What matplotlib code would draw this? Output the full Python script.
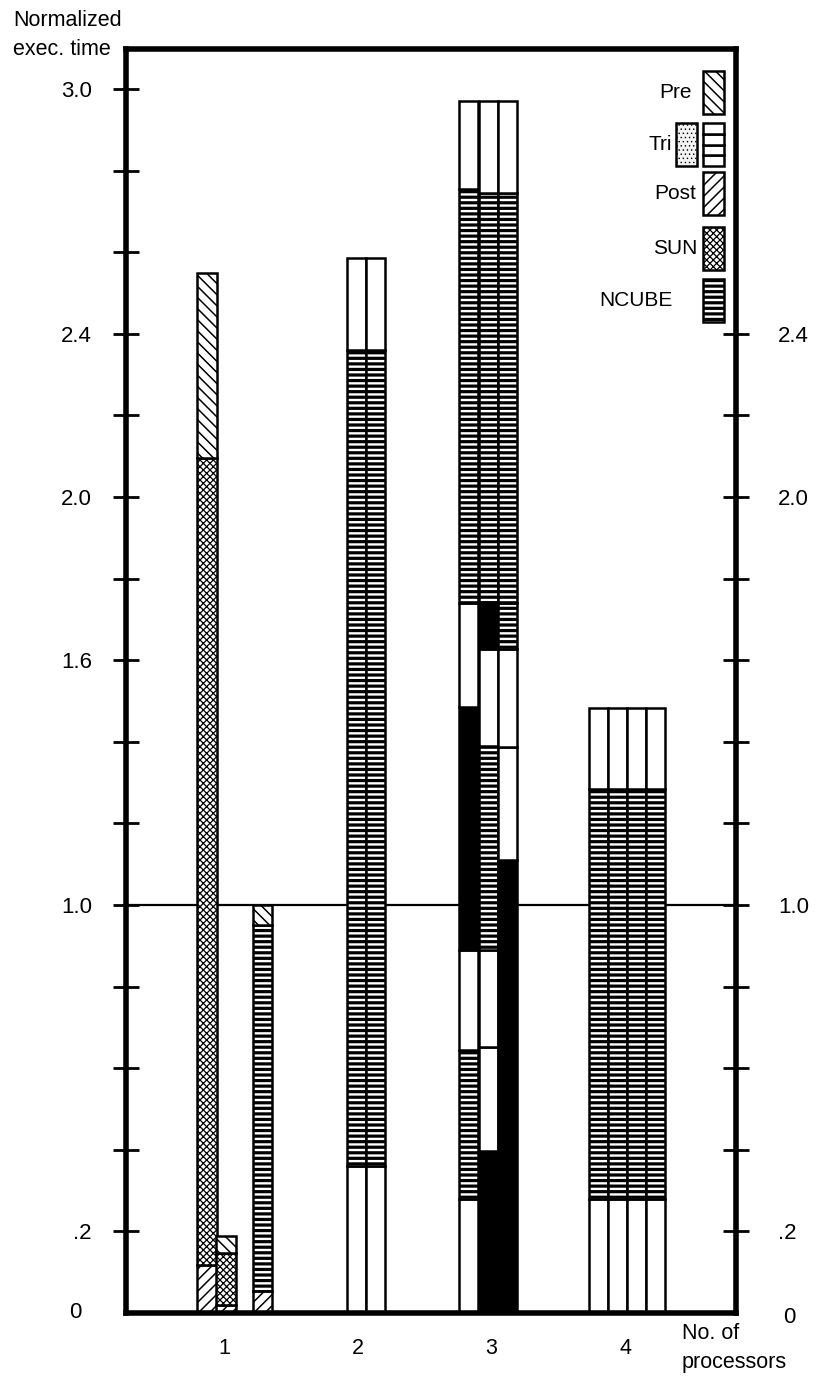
import matplotlib
matplotlib.use('Agg')
import matplotlib.pyplot as plt
from matplotlib.patches import Rectangle

plt.rcParams['font.family'] = ['Liberation Sans', 'DejaVu Sans']

# chart data
group_labels = ['1', '2', '3', '4']
bar_group = [1, 1, 1, 2, 2, 3, 3, 3, 4, 4, 4, 4]
bar_kinds = [
    ['post', 'sun', 'pre'],
    ['post', 'sun', 'pre'],
    ['post', 'ncube', 'pre'],
    ['tri', 'ncube', 'tri'],
    ['tri', 'ncube', 'tri'],
    ['tri', 'ncube', 'tri', 'black', 'tri', 'ncube', 'tri'],
    ['black', 'tri', 'tri', 'ncube', 'tri', 'black', 'ncube', 'tri'],
    ['black', 'tri', 'tri', 'ncube', 'ncube', 'tri'],
    ['tri', 'ncube', 'tri'],
    ['tri', 'ncube', 'tri'],
    ['tri', 'ncube', 'tri'],
    ['tri', 'ncube', 'tri'],
]
# cumulative segment tops (normalized exec. time)
bar_tops = [
    [0.118, 2.096, 2.55],
    [0.02, 0.147, 0.189],
    [0.054, 0.95, 1.0],
    [0.36, 2.36, 2.585],
    [0.36, 2.36, 2.585],
    [0.28, 0.645, 0.89, 1.485, 1.74, 2.755, 2.97],
    [0.397, 0.652, 0.89, 1.39, 1.627, 1.743, 2.745, 2.97],
    [1.11, 1.387, 1.627, 1.74, 2.745, 2.97],
    [0.28, 1.284, 1.484],
    [0.28, 1.284, 1.484],
    [0.28, 1.284, 1.484],
    [0.28, 1.284, 1.484],
]
legend_names = ['Pre', 'Tri', 'Post', 'SUN', 'NCUBE']
left_labels = {0.2: '.2', 1.0: '1.0', 1.6: '1.6', 2.0: '2.0', 2.4: '2.4', 3.0: '3.0'}
right_labels = {0.2: '.2', 1.0: '1.0', 2.0: '2.0', 2.4: '2.4'}

# bar placement inside each group (offset of left edge from group position)
bar_offset = [-0.20, -0.058, 0.217, -0.08, 0.062, -0.242, -0.096, 0.049,
              -0.269, -0.127, 0.015, 0.157]
bar_w = 0.144

styles = {
    'pre': dict(fc='white', hatch='\\\\\\', hlw=1.1),
    'post': dict(fc='white', hatch='///', hlw=1.1),
    'sun': dict(fc='white', hatch='xxxxx', hlw=0.9),
    'ncube': dict(fc='white', hatch='---', hlw=2.3),
    'tri': dict(fc='white', hatch=None, hlw=1.0),
    'black': dict(fc='black', hatch=None, hlw=1.0),
    'stipple': dict(fc='#f2f2f2', hatch='....', hlw=0.5),
}


def style_patch(p, kind):
    st = styles[kind]
    if st['hatch'] and hasattr(p, 'set_hatch_linewidth'):
        p.set_hatch_linewidth(st['hlw'])


plt.rcParams['hatch.linewidth'] = 1.5

fig = plt.figure(figsize=(8.17, 13.76), dpi=100)
ax = fig.add_axes([126 / 817, 1 - 1313 / 1376, 610 / 817, 1264 / 1376])
ax.set_xlim(0.267, 4.829)
ax.set_ylim(0, 3.098)

ax.axhline(1.0, color='black', lw=1.6, zorder=1)

for g, off, kinds, tops in zip(bar_group, bar_offset, bar_kinds, bar_tops):
    bottom = 0
    for kind, top in zip(kinds, tops):
        st = styles[kind]
        bars = ax.bar(g + off, top - bottom, width=bar_w, bottom=bottom, align='edge',
                      facecolor=st['fc'], edgecolor='black', linewidth=1.8,
                      hatch=st['hatch'], zorder=2)
        for p in bars:
            style_patch(p, kind)
        bottom = top

# legend drawn by hand like the original
leg_y = [2.939, 2.811, 2.691, 2.556, 2.429]
leg_kind = ['pre', 'tri', 'post', 'sun', 'ncube']
leg_text_x = [4.50, 4.35, 4.53, 4.538, 4.358]
sw_x, sw_w, sw_h = 4.583, 0.157, 0.105
for name, y, kind, tx in zip(legend_names, leg_y, leg_kind, leg_text_x):
    ax.text(tx, y + sw_h / 2, name, ha='right', va='center', fontsize=15)
    if kind == 'tri':
        for i in range(4):
            ax.add_patch(Rectangle((sw_x, y + i * sw_h / 4), sw_w, sw_h / 4,
                                   facecolor='white', edgecolor='black', lw=1.8, zorder=3))
        r = Rectangle((4.381, y), sw_w, sw_h, facecolor=styles['stipple']['fc'],
                      edgecolor='black', lw=1.8, hatch=styles['stipple']['hatch'], zorder=3)
        style_patch(r, 'stipple')
        ax.add_patch(r)
    else:
        st = styles[kind]
        r = Rectangle((sw_x, y), sw_w, sw_h, facecolor=st['fc'], edgecolor='black',
                      lw=1.8, hatch=st['hatch'], zorder=3)
        style_patch(r, kind)
        ax.add_patch(r)

# axes styling
for s in ax.spines.values():
    s.set_linewidth(4)
ax.set_xticks([1, 2, 3, 4])
ax.set_xticklabels(group_labels)
ax.tick_params(axis='x', length=0, pad=18, labelsize=15.5)

lt = [round(0.2 * i, 1) for i in range(1, 16)]
ax.set_yticks(lt)
ax.set_yticklabels([left_labels.get(v, '') for v in lt])
ax.tick_params(axis='y', direction='inout', length=19, width=2, pad=15, labelsize=16)

ax2 = ax.twinx()
ax2.set_ylim(ax.get_ylim())
rt = [round(0.2 * i, 1) for i in range(1, 13)]
ax2.set_yticks(rt)
ax2.set_yticklabels([right_labels.get(v, '') for v in rt])
ax2.tick_params(axis='y', direction='inout', length=19, width=2, pad=21, labelsize=16)
for s in ax2.spines.values():
    s.set_visible(False)

ax.text(-0.114, 0.0, '0', ha='center', va='center', fontsize=16, clip_on=False)
ax.text(5.226, -0.01, '0', ha='center', va='center', fontsize=16, clip_on=False)

fig.text(13 / 817, 1 - 35 / 1376, 'Normalized\nexec. time', ha='left', va='center',
         fontsize=15.5, linespacing=1.45)
fig.text(682 / 817, 1 - 1348 / 1376, 'No. of\nprocessors', ha='left', va='center',
         fontsize=15.5, linespacing=1.45)

fig.savefig('out.png', dpi=100)
